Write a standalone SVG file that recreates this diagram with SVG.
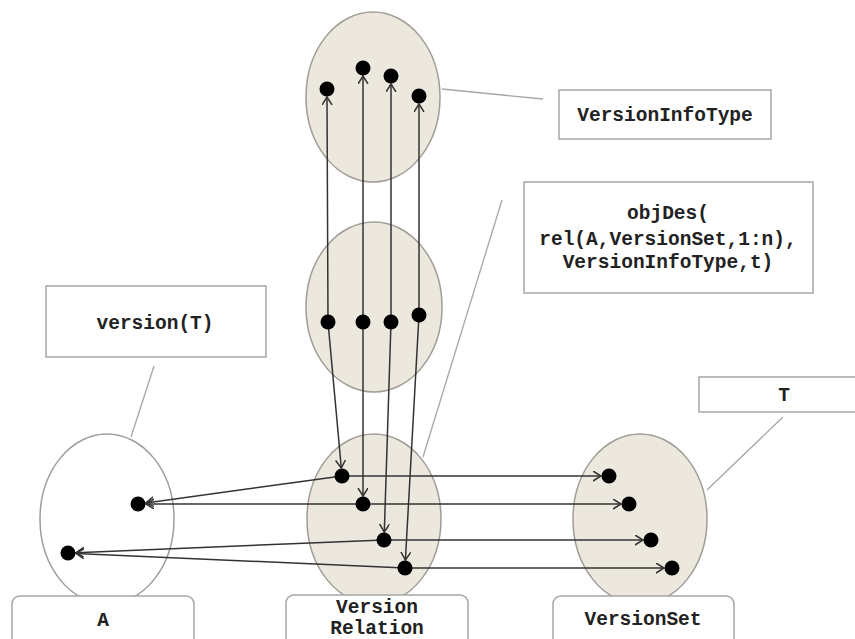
<svg xmlns="http://www.w3.org/2000/svg" width="855" height="639" viewBox="0 0 855 639">
<style>
.ell{fill:#ece8de;stroke:#a09c96;stroke-width:1.5}
.ellw{fill:#fff;stroke:#a09c96;stroke-width:1.5}
.box{fill:#fff;stroke:#a6a6a6;stroke-width:1.5}
.txt{font-family:"Liberation Mono","Courier New",monospace;font-weight:bold;font-size:19.5px;fill:#222;text-anchor:middle}
.dot{fill:#000}
.con{fill:none;stroke:#333;stroke-width:1.5;marker-end:url(#ah)}
.con2{fill:none;stroke:#333;stroke-width:1.5;marker-start:url(#ah);marker-end:url(#ah)}
.lead{fill:none;stroke:#a6a6a6;stroke-width:1.3}
</style>
<defs>
<marker id="ah" markerUnits="userSpaceOnUse" markerWidth="12" markerHeight="12" refX="8" refY="5" orient="auto-start-reverse">
<path d="M0,0 L8,5 L0,10" fill="none" stroke="#333" stroke-width="1.5"/>
</marker>
</defs>
<rect width="855" height="639" fill="#fff"/>

<g id="leaders">
<path class="lead" d="M442,89 L543,99"/>
<path class="lead" d="M423,457 L502,200"/>
<path class="lead" d="M154,366 L131,437"/>
<path class="lead" d="M783,417 L707,490"/>
</g>

<g id="VersionInfoTypeSet">
<ellipse class="ell" cx="373" cy="97" rx="67" ry="85"/>
</g>
<g id="MiddleSet">
<ellipse class="ell" cx="374" cy="307" rx="68" ry="85"/>
</g>
<g id="ASet">
<ellipse class="ellw" cx="107" cy="519" rx="67" ry="85"/>
</g>
<g id="VersionRelationSet">
<ellipse class="ell" cx="374" cy="519" rx="67" ry="85"/>
</g>
<g id="VersionSetSet">
<ellipse class="ell" cx="640" cy="519" rx="67" ry="85"/>
</g>

<g id="connectors">
<path class="con2" d="M327,97 L328,322 L341.3,468"/>
<path class="con2" d="M363,76 L363,322 L363,496"/>
<path class="con2" d="M391,84 L391,322 L384.3,532"/>
<path class="con2" d="M419,104 L419,315 L405.4,560"/>
<path class="con" d="M342,476 L601,476"/>
<path class="con" d="M363,504 L621,504"/>
<path class="con" d="M384,540 L643,540"/>
<path class="con" d="M405,568 L664,568"/>
<path class="con" d="M342,476 L145.9,502.9"/>
<path class="con" d="M363,504 L146,504"/>
<path class="con" d="M384,540 L76,552.7"/>
<path class="con" d="M405,568 L76,553.4"/>
</g>

<g id="dots">
<circle class="dot" cx="327" cy="89" r="7.5"/>
<circle class="dot" cx="363" cy="68" r="7.5"/>
<circle class="dot" cx="391" cy="76" r="7.5"/>
<circle class="dot" cx="419" cy="96" r="7.5"/>
<circle class="dot" cx="328" cy="322" r="7.5"/>
<circle class="dot" cx="363" cy="322" r="7.5"/>
<circle class="dot" cx="391" cy="322" r="7.5"/>
<circle class="dot" cx="419" cy="315" r="7.5"/>
<circle class="dot" cx="342" cy="476" r="7.5"/>
<circle class="dot" cx="363" cy="504" r="7.5"/>
<circle class="dot" cx="384" cy="540" r="7.5"/>
<circle class="dot" cx="405" cy="568" r="7.5"/>
<circle class="dot" cx="138" cy="504" r="7.5"/>
<circle class="dot" cx="68" cy="553" r="7.5"/>
<circle class="dot" cx="609" cy="476" r="7.5"/>
<circle class="dot" cx="629" cy="504" r="7.5"/>
<circle class="dot" cx="651" cy="540" r="7.5"/>
<circle class="dot" cx="672" cy="568" r="7.5"/>
</g>

<g id="VersionInfoType">
<rect class="box" x="559" y="90" width="212" height="49"/>
<text class="txt" x="665" y="121">VersionInfoType</text>
</g>
<g id="objDes">
<rect class="box" x="524" y="182" width="289" height="111"/>
<text class="txt" x="668" y="219">objDes(</text>
<text class="txt" x="668" y="245">rel(A,VersionSet,1:n),</text>
<text class="txt" x="668" y="268">VersionInfoType,t)</text>
</g>
<g id="versionT">
<rect class="box" x="46" y="286" width="220" height="71"/>
<text class="txt" x="155" y="329">version(T)</text>
</g>
<g id="T">
<rect class="box" x="699" y="377" width="170" height="35"/>
<text class="txt" x="784" y="401">T</text>
</g>
<g id="A">
<rect class="box" x="12" y="596" width="182" height="60" rx="8"/>
<text class="txt" x="103" y="626">A</text>
</g>
<g id="VersionRelation">
<rect class="box" x="286" y="595" width="182" height="60" rx="8"/>
<text class="txt" x="377" y="613">Version</text>
<text class="txt" x="377" y="634">Relation</text>
</g>
<g id="VersionSet">
<rect class="box" x="553" y="596" width="181" height="60" rx="8"/>
<text class="txt" x="643" y="625">VersionSet</text>
</g>
</svg>
